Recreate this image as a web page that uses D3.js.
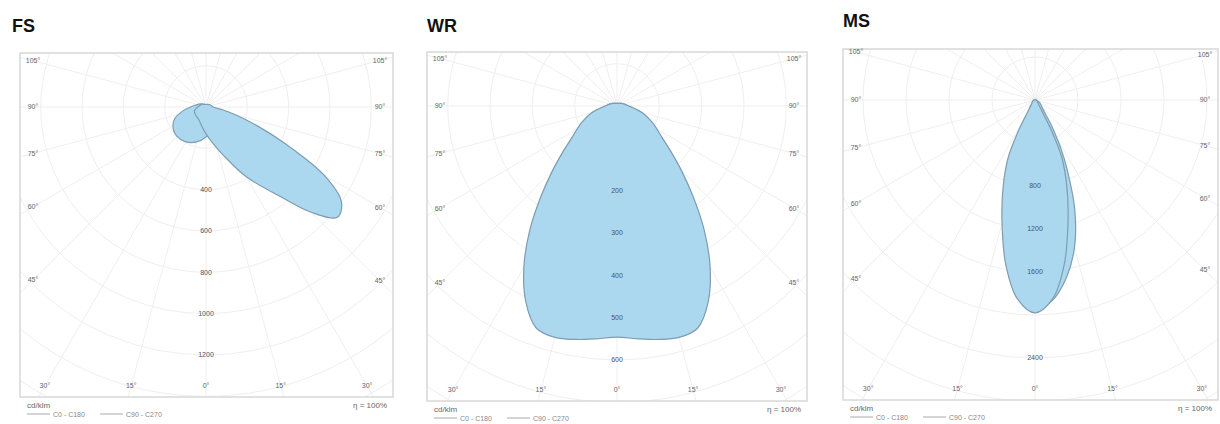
<!DOCTYPE html>
<html><head><meta charset="utf-8">
<script src="https://cdn.jsdelivr.net/npm/d3@7"></script>
<style>
body{margin:0;background:#fff;}
svg{display:block;font-family:"Liberation Sans",Arial,Helvetica,sans-serif;}
</style>
</head><body>
<svg id="c" width="1220" height="424"></svg>
<script>
// ---------- data ----------
const titles = ["FS", "WR", "MS"];
const sideAngles = [105, 90, 75, 60, 45];
const bottomAngles = [-30, -15, 0, 15, 30];
const legendLabels = ["C0 - C180", "C90 - C270"];
const unitLabel = "cd/klm";
const effLabel = "η = 100%";

// FS (cd/klm), angle from nadir, + = right
const fsTicks = [400, 600, 800, 1000, 1200];
const fsAngles = [-180,-150,-120,-90,-80,-70,-60,-45,-30,-15,0,10,20,30,40,45,50,55,60,65,70,75,80,90,120,150];
const fsC0  = [12,15,25,40,50,60,62,65,70,90,130,175,250,390,570,720,830,800,660,430,260,150,85,35,22,15];
const fsC90 = [10,15,30,75,115,160,185,200,195,175,145,120,90,60,40,35,30,25,20,18,15,12,10,10,10,10];

// WR
const wrTicks = [200, 300, 400, 500, 600];
const wrAngles = [-180,-150,-120,-90,-75,-65,-55,-50,-45,-40,-35,-30,-25,-20,-15,-10,-5,0,5,10,15,20,25,30,35,40,45,50,55,65,75,90,120,150];
const wrC0  = [6,7,12,28,62,92,130,165,215,280,360,440,510,558,566,560,552,546,552,560,566,558,510,440,360,280,215,165,130,92,62,28,12,7];
const wrC90 = [6,7,12,27,60,90,128,162,212,276,355,435,505,552,560,554,546,540,546,554,560,552,505,435,355,276,212,162,128,90,60,27,12,7];

// MS
const msTicks = [800, 1200, 1600, 2400];
const msAngles = [-180,-120,-90,-60,-40,-33,-30,-28,-25,-20,-15,-10,-5,0,5,10,15,20,25,28,30,33,40,60,90,120];
const msC0  = [5,5,10,25,50,100,200,350,590,870,1185,1560,1860,1980,1860,1560,1185,870,590,350,200,100,50,25,10,5];
const msC90 = [5,5,10,25,50,90,120,150,220,350,600,1100,1600,1950,1870,1680,1420,1080,700,520,400,280,120,50,10,5];

// ---------- layout ----------
const panels = [
  {title: titles[0], tx: 12, ty: 32, frame: {x: 20, y: 53, w: 373, h: 344}, cx: 206, cy: 107, rMax: 248, gridStep: 200,
   angles: fsAngles, c0: fsC0, c90: fsC90, ticks: fsTicks},
  {title: titles[1], tx: 427, ty: 32, frame: {x: 427, y: 52, w: 380, h: 349}, cx: 617, cy: 106, rMax: 254, gridStep: 100,
   angles: wrAngles, c0: wrC0, c90: wrC90, ticks: wrTicks},
  {title: titles[2], tx: 843, ty: 27, frame: {x: 843, y: 49, w: 375, h: 351}, cx: 1035, cy: 100, rMax: 258, gridStep: 400,
   angles: msAngles, c0: msC0, c90: msC90, ticks: msTicks}
];

const FILL = "#abd7ef";
const STROKE = "#7f9db0";
const GRID = "#efefef";
const svg = d3.select("#c");
const defs = svg.append("defs");

panels.forEach((p, i) => {
  const f = p.frame;
  const cx = p.cx, cy = p.cy;
  const maxTick = p.ticks[p.ticks.length - 1];
  const r = d3.scaleLinear().domain([0, maxTick]).range([0, p.rMax]);
  const g = svg.append("g");

  // title
  g.append("text").attr("x", p.tx).attr("y", p.ty).text(p.title)
    .attr("font-size", 18).attr("font-weight", "bold").attr("fill", "#111");

  // clip
  const cid = "clip" + i;
  defs.append("clipPath").attr("id", cid).append("rect")
    .attr("x", f.x).attr("y", f.y).attr("width", f.w).attr("height", f.h);
  const inner = g.append("g").attr("clip-path", `url(#${cid})`);

  // grid circles
  const far = Math.hypot(Math.max(cx - f.x, f.x + f.w - cx), Math.max(cy - f.y, f.y + f.h - cy));
  const gridVals = d3.range(p.gridStep, r.invert(far) + p.gridStep, p.gridStep);
  inner.selectAll("circle.grid").data(gridVals).join("circle")
    .attr("cx", cx).attr("cy", cy).attr("r", d => r(d))
    .attr("fill", "none").attr("stroke", GRID).attr("stroke-width", 1);
  // radial lines every 15°
  const radials = d3.range(0, 360, 15);
  inner.selectAll("line.rad").data(radials).join("line")
    .attr("x1", cx).attr("y1", cy)
    .attr("x2", d => cx + far * Math.sin(d * Math.PI / 180))
    .attr("y2", d => cy + far * Math.cos(d * Math.PI / 180))
    .attr("stroke", GRID).attr("stroke-width", 1);

  // curves: C90 first, then C0 on top
  const line = d3.lineRadial()
    .angle(d => Math.PI - d.a * Math.PI / 180)
    .radius(d => r(d.v))
    .curve(d3.curveCatmullRomClosed.alpha(0.5));
  [p.c90, p.c0].forEach(vals => {
    const pts = p.angles.map((a, k) => ({a: a, v: vals[k]}));
    inner.append("path").attr("transform", `translate(${cx},${cy})`)
      .attr("d", line(pts)).attr("fill", FILL).attr("stroke", STROKE).attr("stroke-width", 1.2);
  });

  // value labels along 0°
  g.selectAll("text.val").data(p.ticks).join("text")
    .attr("x", cx).attr("y", d => cy + r(d)).attr("dy", "0.35em")
    .attr("text-anchor", "middle").attr("font-size", 7).attr("fill", "#4a5866")
    .text(d => d);

  // frame
  g.append("rect").attr("x", f.x).attr("y", f.y).attr("width", f.w).attr("height", f.h)
    .attr("fill", "none").attr("stroke", "#d8d8d8").attr("stroke-width", 1.5);

  // angle labels at intersection of rays with an inset box
  const L = f.x + 13, R = f.x + f.w - 13, B = f.y + f.h - 11;
  function hit(deg) {
    const s = Math.sin(deg * Math.PI / 180), c = Math.cos(deg * Math.PI / 180);
    let t = Infinity;
    if (s < -1e-9) t = Math.min(t, (L - cx) / s);
    if (s > 1e-9) t = Math.min(t, (R - cx) / s);
    if (c > 1e-9) t = Math.min(t, (B - cy) / c);
    return [cx + t * s, cy + t * c];
  }
  const angLabels = [];
  sideAngles.forEach(a => { angLabels.push({a: -a, t: a}); angLabels.push({a: a, t: a}); });
  bottomAngles.forEach(a => angLabels.push({a: a, t: Math.abs(a)}));
  g.selectAll("text.ang").data(angLabels).join("text")
    .attr("x", d => hit(d.a)[0]).attr("y", d => hit(d.a)[1]).attr("dy", "0.35em")
    .attr("text-anchor", "middle").attr("font-size", 7).attr("fill", "#666")
    .text(d => d.t + "°");

  // legend
  const ly = f.y + f.h;
  g.append("text").attr("x", f.x + 7).attr("y", ly + 11).attr("font-size", 8).attr("fill", "#666").text(unitLabel);
  g.append("text").attr("x", f.x + f.w - 6).attr("y", ly + 11).attr("text-anchor", "end")
    .attr("font-size", 8).attr("fill", "#666").text(effLabel);
  const lx = [7, 80];
  legendLabels.forEach((lab, k) => {
    g.append("line").attr("x1", f.x + lx[k]).attr("x2", f.x + lx[k] + 23)
      .attr("y1", ly + 17).attr("y2", ly + 17).attr("stroke", "#aaa").attr("stroke-width", 1);
    g.append("text").attr("x", f.x + lx[k] + 26).attr("y", ly + 20)
      .attr("font-size", 7).attr("fill", "#888").text(lab);
  });
});
</script>
</body></html>
